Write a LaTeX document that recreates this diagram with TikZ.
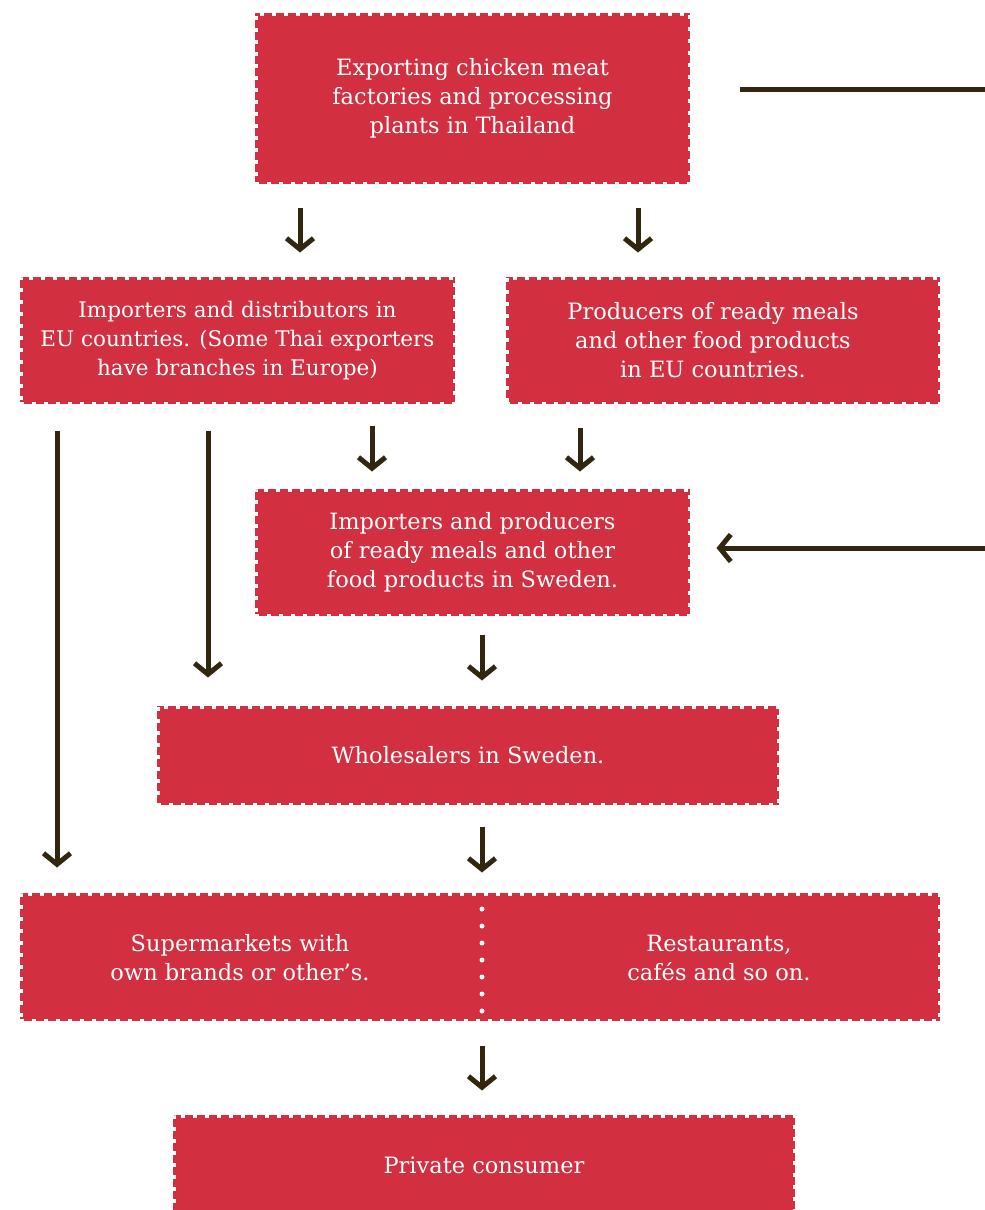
\documentclass[tikz,border=0pt]{standalone}
\usepackage{fontspec}
\setmainfont{DejaVu Serif}
\usetikzlibrary{arrows.meta}
\definecolor{boxred}{HTML}{D22F41}
\definecolor{arrowdark}{HTML}{33260F}
\tikzset{
  boxtext/.style={text=white, align=center, font=\fontsize{22.5}{29}\selectfont},
  flowbox/.style={rectangle, fill=boxred, draw=white, line width=5pt,
    dash pattern=on 4pt off 8pt, inner sep=0pt, boxtext},
  arr/.style={draw=arrowdark, line width=5pt,
    -{Straight Barb[length=11pt,width=27pt,line width=5pt]}},
  plainline/.style={draw=arrowdark, line width=5pt},
  divider/.style={draw=white, line width=5pt, line cap=round, dash pattern=on 0pt off 17pt}
}
\begin{document}
\begin{tikzpicture}[x=1pt,y=-1pt]
\useasboundingbox (0,0) rectangle (985,1210);
\node[flowbox, minimum width=435pt, minimum height=171pt] (top) at (472.5,98.5)
  {Exporting chicken meat\\factories and processing\\plants in Thailand};
\node[flowbox, minimum width=435pt, minimum height=127pt, font=\fontsize{21.5}{29}\selectfont] (euimp) at (237.5,340.5)
  {Importers and distributors in\\EU countries. (Some Thai exporters\\have branches in Europe)};
\node[flowbox, minimum width=434pt, minimum height=127pt] (euprod) at (723,340.5)
  {\hspace*{-20pt}Producers of ready meals\\\hspace*{-20pt}and other food products\\\hspace*{-20pt}in EU countries.};
\node[flowbox, minimum width=435pt, minimum height=127pt] (swe) at (472.5,552.5)
  {Importers and producers\\of ready meals and other\\food products in Sweden.};
\node[flowbox, minimum width=622pt, minimum height=99pt] (whole) at (468,755.5)
  {Wholesalers in Sweden.};
\node[flowbox, minimum width=920pt, minimum height=128pt] (retail) at (480,957) {};
\node[boxtext] (super) at (240,958)
  {Supermarkets with\\own brands or other’s.};
\node[boxtext] (rest) at (719,958)
  {Restaurants,\\cafés and so on.};
\coordinate (divtop) at (482,909);
\coordinate (divbot) at (482,1012);
\draw[divider] (divtop) -- (divbot);
\node[flowbox, minimum width=622pt, minimum height=100pt] (cons) at (484,1165)
  {Private consumer};
% arrows
\draw[arr] ([xshift=-172.5pt,yshift=-21pt]top.south) -- ([xshift=-172.5pt,yshift=22pt]top.south |- euimp.north);
\draw[arr] ([xshift=165.5pt,yshift=-21pt]top.south) -- ([xshift=165.5pt,yshift=22pt]top.south |- euprod.north);
\coordinate (rt) at (985,89);
\draw[plainline] ([xshift=47pt]top.east |- rt) -- (rt);
\coordinate (rm) at (985,548);
\draw[arr] (rm) -- ([xshift=24pt]swe.east |- rm);
\draw[arr] ([xshift=-180.5pt,yshift=-24pt]euimp.south) -- ([xshift=-180.5pt,yshift=23pt]euimp.south |- retail.north);
\draw[arr] ([xshift=-29.5pt,yshift=-24pt]euimp.south) -- ([xshift=-29.5pt,yshift=26pt]euimp.south |- whole.north);
\draw[arr] ([xshift=134.5pt,yshift=-19pt]euimp.south) -- ([xshift=134.5pt,yshift=15pt]euimp.south |- swe.north);
\draw[arr] ([xshift=-143pt,yshift=-21pt]euprod.south) -- ([xshift=-143pt,yshift=15pt]euprod.south |- swe.north);
\draw[arr] ([xshift=9.5pt,yshift=-16pt]swe.south) -- ([xshift=9.5pt,yshift=23pt]swe.south |- whole.north);
\draw[arr] ([xshift=14pt,yshift=-19pt]whole.south) -- ([xshift=14pt,yshift=18pt]whole.south |- retail.north);
\draw[arr] ([xshift=2pt,yshift=-22pt]retail.south) -- ([xshift=2pt,yshift=22pt]retail.south |- cons.north);
\end{tikzpicture}
\end{document}
